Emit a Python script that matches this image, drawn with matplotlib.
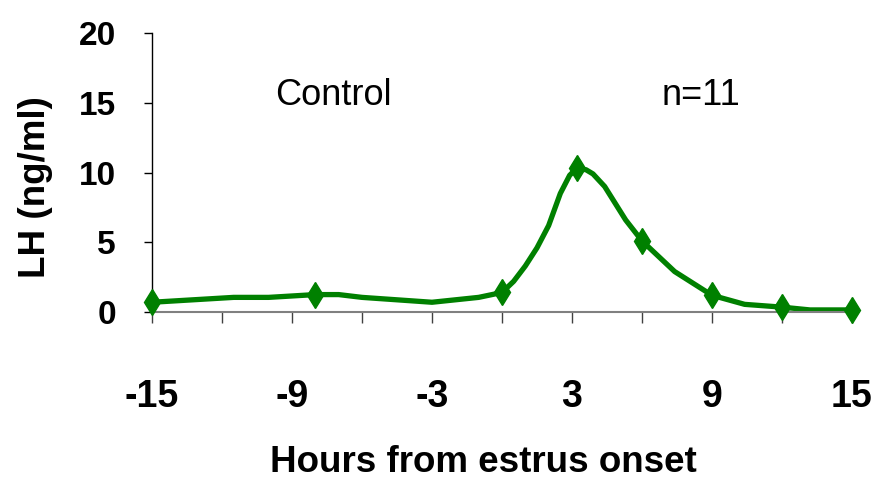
import matplotlib.pyplot as plt

# LH curve (hours from estrus onset vs ng/ml)
hours = [-15, -11.5, -10, -8, -7, -6, -3, -1, 0, 0.5, 1, 1.5, 2, 2.5, 2.9,
         3.2, 3.6, 3.9, 4.4, 5.3, 6, 7.4, 9, 10.4, 12, 13.2, 15]
lh = [0.7, 1.05, 1.05, 1.25, 1.25, 1.05, 0.7, 1.05, 1.4, 2.2, 3.3, 4.6, 6.2, 8.5, 9.8,
      10.3, 10.2, 9.9, 9.0, 6.6, 5.1, 2.9, 1.2, 0.55, 0.35, 0.15, 0.15]

# sampled points shown with markers
mark_hours = [-15, -8, 0, 3.2, 6, 9, 12, 15]
mark_lh = [0.7, 1.25, 1.4, 10.3, 5.1, 1.2, 0.35, 0.15]

xticks = [-15, -12, -9, -6, -3, 0, 3, 6, 9, 12, 15]
xtick_labels = ['-15', '', '-9', '', '-3', '', '3', '', '9', '', '15']
yticks = [0, 5, 10, 15, 20]

green = '#008000'

fig = plt.figure(figsize=(8.91, 4.79), dpi=100)
ax = fig.add_axes([0.1706, 0.3486, 0.7856, 0.5825])

ax.plot(hours, lh, color=green, lw=3.8, solid_joinstyle='round', zorder=2)
ax.plot(mark_hours, mark_lh, ls='none', marker='d', ms=13, color=green, zorder=3,
        clip_on=False)

ax.set_xlim(-15, 15)
ax.set_ylim(0, 20)

ax.spines['top'].set_visible(False)
ax.spines['right'].set_visible(False)
ax.spines['left'].set_color('black')
ax.spines['bottom'].set_color('#808080')
ax.spines['left'].set_linewidth(1.0)
ax.spines['bottom'].set_linewidth(1.5)

ax.set_xticks(xticks)
ax.set_xticklabels(xtick_labels, family='Liberation Sans',
                   fontsize=27, fontweight='bold')
ax.tick_params(axis='x', direction='out', length=8, width=1, color='#404040', pad=40)

ax.set_yticks(yticks)
ax.set_yticklabels([str(v) for v in yticks], family='Liberation Sans',
                   fontsize=24, fontweight='bold')
ax.tick_params(axis='y', direction='out', length=6, width=1, color='black', pad=20)

ax.text(-9.73, 15.5, 'Control', family='Liberation Sans', fontsize=26,
        ha='left', va='center')
ax.text(6.86, 15.5, 'n=11', family='Liberation Sans', fontsize=26,
        ha='left', va='center')

fig.text(483 / 891, 1 - 463 / 479, 'Hours from estrus onset', family='Liberation Sans',
         fontsize=26.5, fontweight='bold', ha='center', va='center')
fig.text(36 / 891, 1 - 187 / 479, 'LH (ng/ml)', family='Liberation Sans',
         fontsize=26.5, fontweight='bold', ha='center', va='center', rotation=90)

fig.savefig('out.png', dpi=100)
